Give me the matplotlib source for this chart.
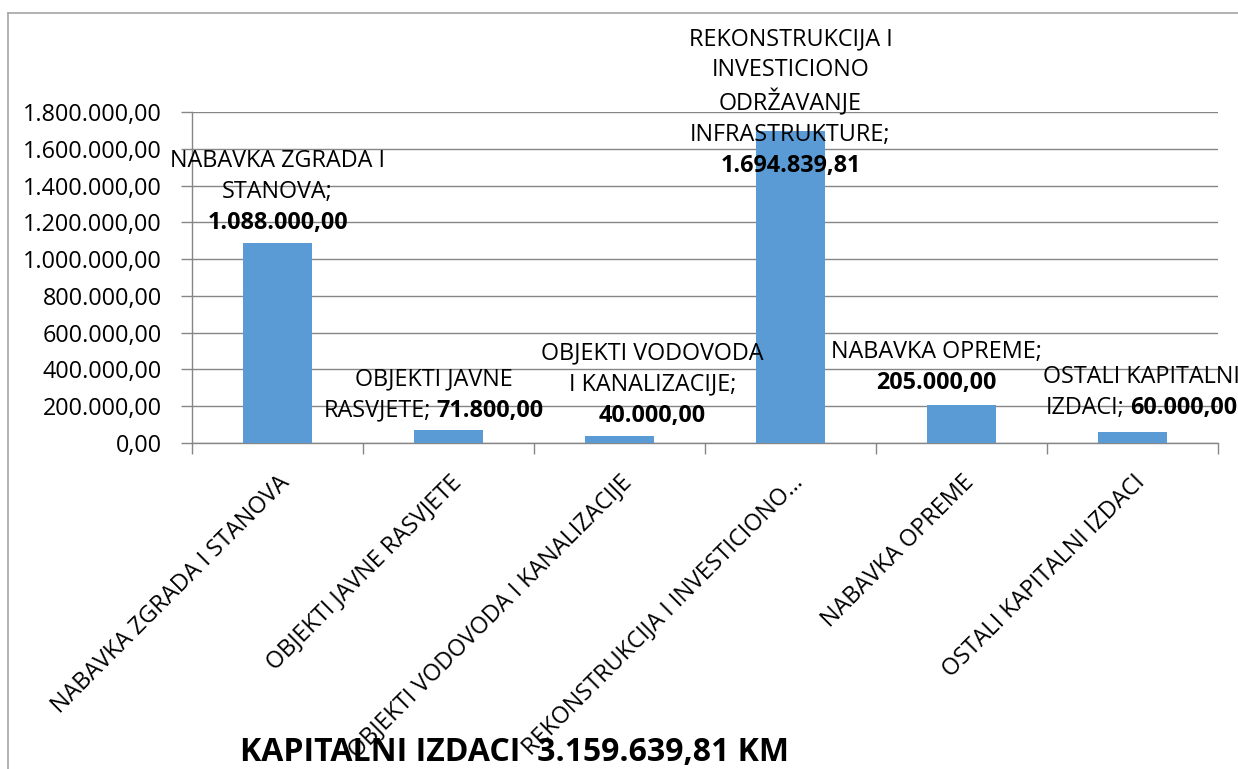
import matplotlib
matplotlib.use("Agg")
import matplotlib.pyplot as plt
from matplotlib.ticker import FuncFormatter, MultipleLocator
from matplotlib.offsetbox import TextArea, HPacker, VPacker, AnnotationBbox
from matplotlib.lines import Line2D

# data
categories = [
    "NABAVKA ZGRADA I STANOVA",
    "OBJEKTI JAVNE RASVJETE",
    "OBJEKTI VODOVODA I KANALIZACIJE",
    "REKONSTRUKCIJA I INVESTICIONO…",
    "NABAVKA OPREME",
    "OSTALI KAPITALNI IZDACI",
]
values = [1088000.00, 71800.00, 40000.00, 1694839.81, 205000.00, 60000.00]
# how each data label is wrapped (the last bold part is the value)
label_lines = [
    ["NABAVKA ZGRADA I", "STANOVA;"],
    ["OBJEKTI JAVNE", "RASVJETE;"],
    ["OBJEKTI VODOVODA", "I KANALIZACIJE;"],
    ["REKONSTRUKCIJA I", "INVESTICIONO", "ODRŽAVANJE", "INFRASTRUKTURE;"],
    ["NABAVKA OPREME;"],
    ["OSTALI KAPITALNI", "IZDACI;"],
]
value_on_own_line = [True, False, True, True, True, False]
title = "KAPITALNI IZDACI  3.159.639,81 KM"

# label placement (pixel offsets of the label box from the bar top)
label_offsets = [(0, 8), (-15, 7), (33, 8), (0, -47), (-25, 10), (9, 12)]

FONT = "Open Sans"
FS = 16.8
BAR = "#5B9BD5"
GRID = "#868686"


def fmt(v, pos=None):
    s = f"{v:,.2f}"
    return s.replace(",", "X").replace(".", ",").replace("X", ".")


plt.rcParams["font.family"] = [FONT, "DejaVu Sans"]

fig = plt.figure(figsize=(12.38, 7.69), dpi=100)
ax = fig.add_axes([192 / 1238, 1 - 443 / 769, 1026 / 1238, 331 / 769])

x = list(range(len(values)))
ax.bar(x, values, width=0.4, color=BAR, zorder=3)

ax.set_xlim(-0.5, len(values) - 0.5)
ax.set_ylim(0, 1800000)
ax.yaxis.set_major_locator(MultipleLocator(200000))
ax.yaxis.set_major_formatter(FuncFormatter(fmt))
ax.grid(axis="y", color=GRID, linewidth=1, zorder=0)

for s in ["top", "right"]:
    ax.spines[s].set_visible(False)
for s in ["left", "bottom"]:
    ax.spines[s].set_color(GRID)
    ax.spines[s].set_linewidth(1)

ax.set_xticks([i - 0.5 for i in range(len(values) + 1)])
ax.set_xticklabels([])
ax.tick_params(axis="x", length=8, color=GRID, width=1)
ax.tick_params(axis="y", length=8, color=GRID, width=1, pad=13.5, labelsize=FS)

# rotated category labels
for i, c in enumerate(categories):
    ax.annotate(c, xy=(i, 0), xytext=(9, -36), textcoords="offset pixels",
                rotation=45, ha="right", va="center", rotation_mode="anchor",
                fontsize=FS, annotation_clip=False)

# data labels: category name + bold value
for i, v in enumerate(values):
    rows = []
    lines = label_lines[i]
    for j, ln in enumerate(lines):
        last = j == len(lines) - 1
        if last and not value_on_own_line[i]:
            rows.append(HPacker(children=[
                TextArea(ln, textprops=dict(fontsize=FS)),
                TextArea(fmt(v), textprops=dict(fontsize=FS, fontweight="bold")),
            ], sep=4, pad=0, align="baseline"))
        else:
            rows.append(TextArea(ln, textprops=dict(fontsize=FS)))
    if value_on_own_line[i]:
        rows.append(TextArea(fmt(v), textprops=dict(fontsize=FS, fontweight="bold")))
    box = VPacker(children=rows, sep=5, pad=0, align="center")
    dx, dy = label_offsets[i]
    ab = AnnotationBbox(box, (i, v), xybox=(dx, dy), xycoords="data",
                        boxcoords="offset pixels", box_alignment=(0.5, 0),
                        frameon=False, pad=0, annotation_clip=False)
    ax.add_artist(ab)

fig.text(515 / 1238, 1 - 761 / 769, title, ha="center", va="baseline",
         fontsize=23, fontweight="bold")

# chart frame (cut off at right and bottom in the original)
fig.add_artist(Line2D([7.5 / 1238, 7.5 / 1238], [0, 1 - 12.5 / 769],
                      transform=fig.transFigure, color="#A6A6A6", linewidth=1.2))
fig.add_artist(Line2D([7.5 / 1238, 1], [1 - 12.5 / 769, 1 - 12.5 / 769],
                      transform=fig.transFigure, color="#A6A6A6", linewidth=1.2))

fig.savefig("out.png", dpi=100)
